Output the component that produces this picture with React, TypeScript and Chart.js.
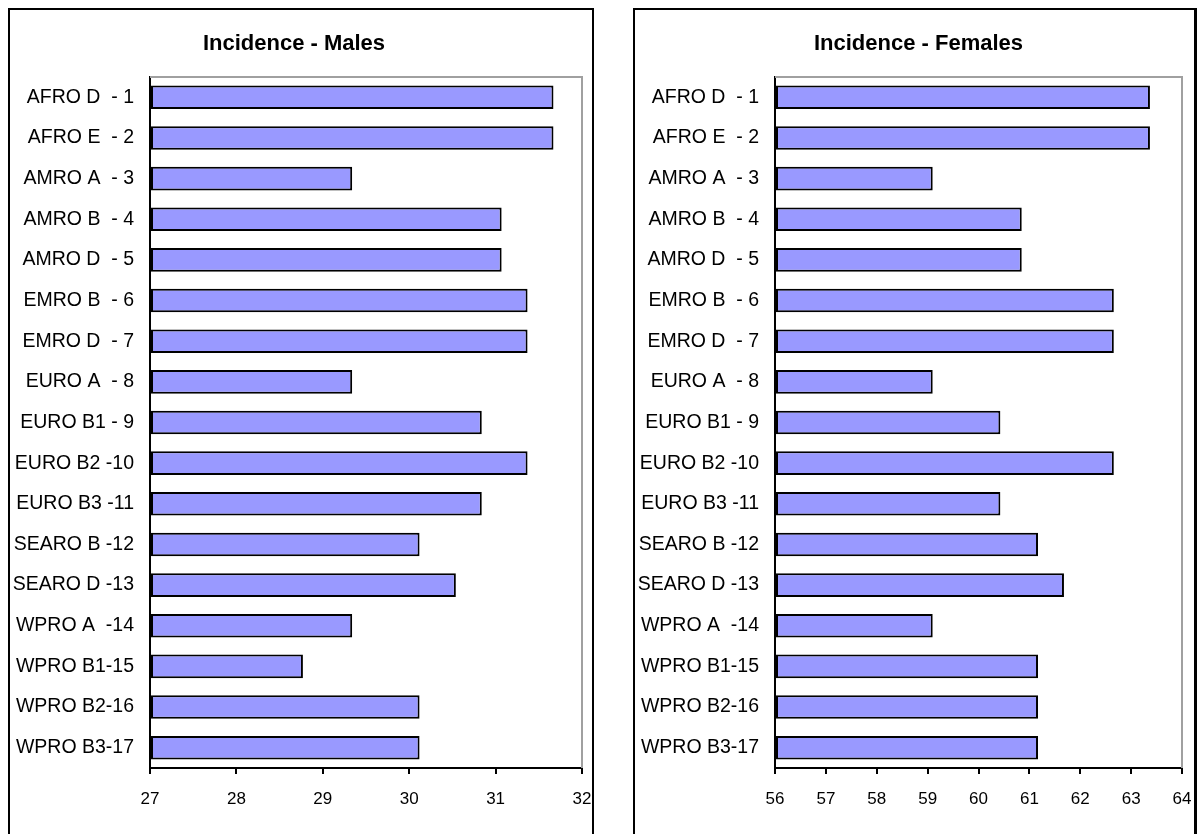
import React, { useEffect, useRef } from "react";
import { Chart, registerables } from "chart.js";

Chart.register(...registerables);

const categories = [
  "AFRO D  - 1",
  "AFRO E  - 2",
  "AMRO A  - 3",
  "AMRO B  - 4",
  "AMRO D  - 5",
  "EMRO B  - 6",
  "EMRO D  - 7",
  "EURO A  - 8",
  "EURO B1 - 9",
  "EURO B2 -10",
  "EURO B3 -11",
  "SEARO B -12",
  "SEARO D -13",
  "WPRO A  -14",
  "WPRO B1-15",
  "WPRO B2-16",
  "WPRO B3-17",
];

const malesIncidence = [
  31.67, 31.67, 29.34, 31.07, 31.07, 31.37, 31.37, 29.34, 30.84, 31.37, 30.84,
  30.12, 30.54, 29.34, 28.77, 30.12, 30.12,
];

const femalesIncidence = [
  63.37, 63.37, 59.1, 60.85, 60.85, 62.66, 62.66, 59.1, 60.43, 62.66, 60.43,
  61.17, 61.68, 59.1, 61.17, 61.17, 61.17,
];

const malesAxis = { min: 27, max: 32, step: 1 };
const femalesAxis = { min: 56, max: 64, step: 1 };

const FONT = "'Liberation Sans', Arial, sans-serif";

type PanelProps = {
  title: string;
  titleShift: number;
  values: number[];
  axis: { min: number; max: number; step: number };
  left: number;
  width: number;
  padRight: number;
  rightBorder: number;
};

const PANEL_HEIGHT = 850;
const CANVAS_H = PANEL_HEIGHT - 4;
const PLOT_TOP = 67;
const PLOT_BOTTOM = 758;
const PLOT_LEFT = 140;

function Panel({ title, titleShift, values, axis, left, width, padRight, rightBorder }: PanelProps) {
  const ref = useRef<HTMLCanvasElement | null>(null);
  const canvasW = width - 2 - rightBorder;
  useEffect(() => {
    if (!ref.current) return;
    const titlePlugin = {
      id: "panelTitle",
      afterDraw(chart: any) {
        const ctx = chart.ctx;
        ctx.save();
        ctx.font = `bold 22px ${FONT}`;
        ctx.fillStyle = "#000";
        ctx.textAlign = "center";
        ctx.textBaseline = "middle";
        ctx.fillText(title, chart.width / 2 + titleShift, 34);
        ctx.restore();
      },
    };
    const framePlugin = {
      id: "plotFrame",
      beforeDatasetsDraw(chart: any) {
        const { ctx, chartArea } = chart;
        ctx.save();
        ctx.strokeStyle = "#a0a0a0";
        ctx.lineWidth = 2;
        ctx.beginPath();
        ctx.moveTo(chartArea.left, chartArea.top);
        ctx.lineTo(chartArea.right, chartArea.top);
        ctx.lineTo(chartArea.right, chartArea.bottom);
        ctx.stroke();
        ctx.restore();
      },
    };
    const chart = new Chart(ref.current, {
      type: "bar",
      data: {
        labels: categories,
        datasets: [
          {
            data: values,
            base: axis.min,
            backgroundColor: "#9999ff",
            borderColor: "#000",
            borderWidth: 2,
            borderSkipped: false,
            barPercentage: 0.58,
            categoryPercentage: 1,
          } as any,
        ],
      },
      options: {
        indexAxis: "y",
        animation: false,
        responsive: false,
        maintainAspectRatio: false,
        layout: { padding: { top: PLOT_TOP, left: 0, right: padRight, bottom: 0 } },
        plugins: {
          legend: { display: false },
          title: { display: false },
          tooltip: { enabled: false },
        },
        scales: {
          x: {
            type: "linear",
            min: axis.min,
            max: axis.max,
            afterFit(scale: any) {
              scale.height = CANVAS_H - PLOT_BOTTOM;
              scale.paddingLeft = 0;
              scale.paddingRight = 0;
            },
            ticks: {
              stepSize: axis.step,
              color: "#000",
              font: { family: FONT, size: 17 },
              padding: 15,
            },
            grid: {
              display: true,
              drawOnChartArea: false,
              drawTicks: true,
              tickLength: 6,
              color: "#000",
              lineWidth: 2,
            },
            border: { display: true, color: "#000", width: 2 },
          },
          y: {
            afterFit(scale: any) {
              scale.width = PLOT_LEFT;
              scale.paddingTop = 0;
              scale.paddingBottom = 0;
            },
            ticks: {
              color: "#000",
              font: { family: FONT, size: 19.5 },
              padding: 16,
              autoSkip: false,
            },
            grid: {
              display: true,
              drawOnChartArea: false,
              drawTicks: false,
              color: "#000",
            },
            border: { display: true, color: "#000", width: 2 },
          },
        },
      },
      plugins: [framePlugin, titlePlugin],
    });
    return () => chart.destroy();
  }, [title, titleShift, values, axis, padRight]);

  return (
    <div
      style={{
        position: "absolute",
        left,
        top: 0,
        width,
        height: PANEL_HEIGHT,
        borderStyle: "solid",
        borderColor: "#000",
        borderWidth: `2px ${rightBorder}px 2px 2px`,
        boxSizing: "border-box",
        background: "#fff",
      }}
    >
      <canvas
        ref={ref}
        width={canvasW}
        height={CANVAS_H}
        style={{ display: "block", width: canvasW, height: CANVAS_H }}
      />
    </div>
  );
}

export default function App() {
  return (
    <div
      style={{
        position: "fixed",
        left: 8,
        top: 8,
        width: 1191,
        height: 826,
        overflow: "hidden",
      }}
    >
      <Panel
        title="Incidence - Males"
        titleShift={-7}
        values={malesIncidence}
        axis={malesAxis}
        left={0}
        width={586}
        padRight={10}
        rightBorder={2}
      />
      <Panel
        title="Incidence - Females"
        titleShift={4}
        values={femalesIncidence}
        axis={femalesAxis}
        left={625}
        width={564}
        padRight={12}
        rightBorder={3}
      />
    </div>
  );
}
